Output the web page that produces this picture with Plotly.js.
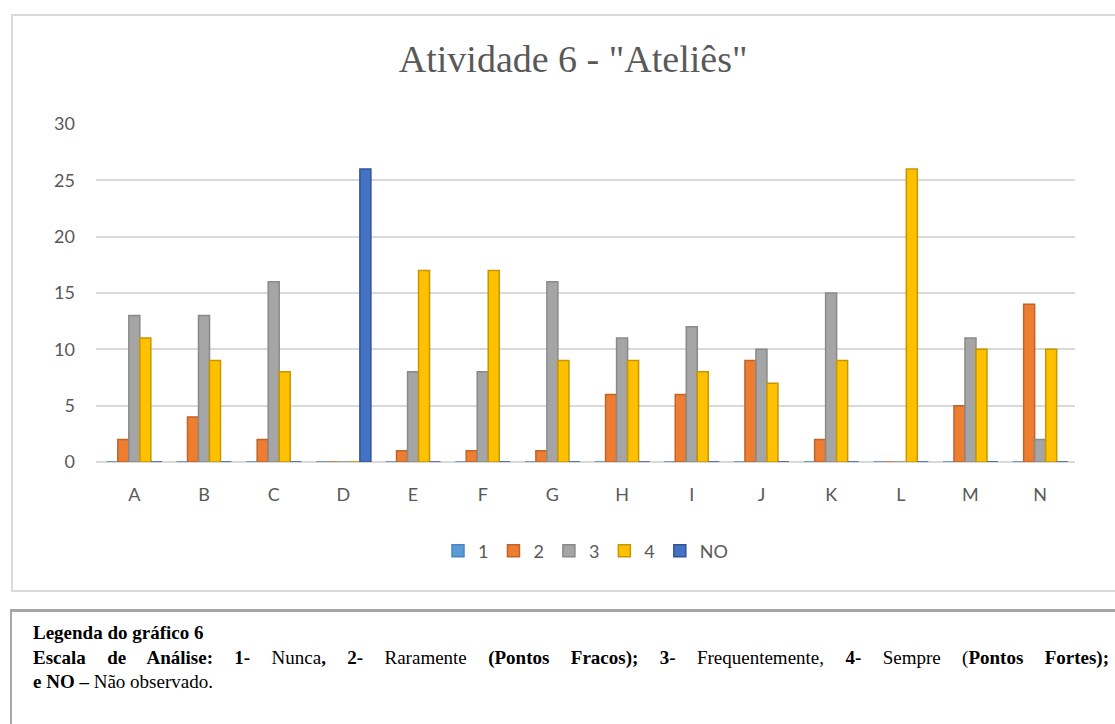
<!DOCTYPE html>
<html>
<head>
<meta charset="utf-8">
<script src="https://cdn.plot.ly/plotly-3.0.1.min.js"></script>
<style>
  html, body { margin:0; padding:0; background:#fff; width:1115px; height:724px; overflow:hidden; }
  #box1 { position:absolute; left:11px; top:14px; width:1120px; height:578px; border:2px solid #d9d9d9; box-sizing:border-box; }
  #chart { position:absolute; left:0; top:0; width:1115px; height:600px; }
  #box2 { position:absolute; left:10px; top:609px; width:1120px; height:130px; border:2px solid #a6a6a6; border-top-width:3px; box-sizing:border-box;
          font-family:"Liberation Serif","Times New Roman",serif; font-size:19px; line-height:24.5px; color:#000; padding:9px 0 0 21px; }
  #box2 .ln { white-space:nowrap; }
  #box2 .just { width:1076px; text-align:justify; text-align-last:justify; white-space:normal; }
</style>
</head>
<body>
<div id="box1"></div>
<div id="chart"></div>
<div id="box2">
<div class="ln"><b>Legenda do gráfico 6</b></div>
<div class="just"><b>Escala de Análise: 1-</b> Nunca<b>, 2-</b> Raramente <b>(Pontos Fracos); 3-</b> Frequentemente, <b>4-</b> Sempre (<b>Pontos Fortes);</b></div>
<div class="ln"><b>e NO –</b> Não observado.</div>
</div>
<script>
const categories = ["A","B","C","D","E","F","G","H","I","J","K","L","M","N"];
const s1  = [0,0,0,0,0,0,0,0,0,0,0,0,0,0];
const s2  = [2,4,2,0,1,1,1,6,6,9,2,0,5,14];
const s3  = [13,13,16,0,8,8,16,11,12,10,15,0,11,2];
const s4  = [11,9,8,0,17,17,9,9,8,7,9,26,10,10];
const sNO = [0,0,0,26,0,0,0,0,0,0,0,0,0,0];
const seriesNames = ["1","2","3","4","NO"];
const colors = ["#5b9bd5","#ed7d31","#a5a5a5","#ffc000","#4472c4"];
const edges  = ["#4a86c0","#c0642a","#8a8a8a","#c79600","#2f5597"];
const yTicks = [0,5,10,15,20,25,30];

const allSeries = [s1,s2,s3,s4,sNO];
const traces = allSeries.map((vals,i)=>({
  type:"bar", name:seriesNames[i], x:categories, y:vals,
  marker:{color:colors[i], line:{color:edges[i], width:1.5}},
  hoverinfo:"x+y+name"
}));

const font = {family:"Lato, 'Open Sans', sans-serif", color:"#595959", size:18};
const layout = {
  width:1115, height:600,
  paper_bgcolor:"rgba(0,0,0,0)", plot_bgcolor:"rgba(0,0,0,0)",
  margin:{l:96, r:40, t:124, b:138},
  barmode:"group", bargap:0.21, bargroupgap:0,
  font:font,
  title:{text:'Atividade 6 - "Ateliês"', font:{family:"'Liberation Serif','Times New Roman',serif", size:38, color:"#595959"},
         x:0.514, xanchor:"center", y:1-59/600, yref:"container", yanchor:"middle"},
  xaxis:{type:"category", range:[-0.55,13.5], showgrid:false, zeroline:false, showline:false, ticks:"",
         tickfont:font, ticklabelstandoff:20, fixedrange:true},
  yaxis:{range:[0,30], tickvals:yTicks, ticktext:yTicks.map(String), showgrid:true, gridcolor:"#d9d9d9", gridwidth:2,
         zeroline:true, zerolinecolor:"#d9d9d9", zerolinewidth:2, showline:false, ticks:"", tickfont:font, ticklabelstandoff:20, fixedrange:true},
  legend:{orientation:"h", x:0.5, xanchor:"center", y:1-551/600, yref:"container", yanchor:"middle",
          font:font, itemwidth:30, traceorder:"normal"},
  showlegend:true
};
Plotly.newPlot("chart", traces, layout, {displayModeBar:false, staticPlot:true});
</script>
</body>
</html>
